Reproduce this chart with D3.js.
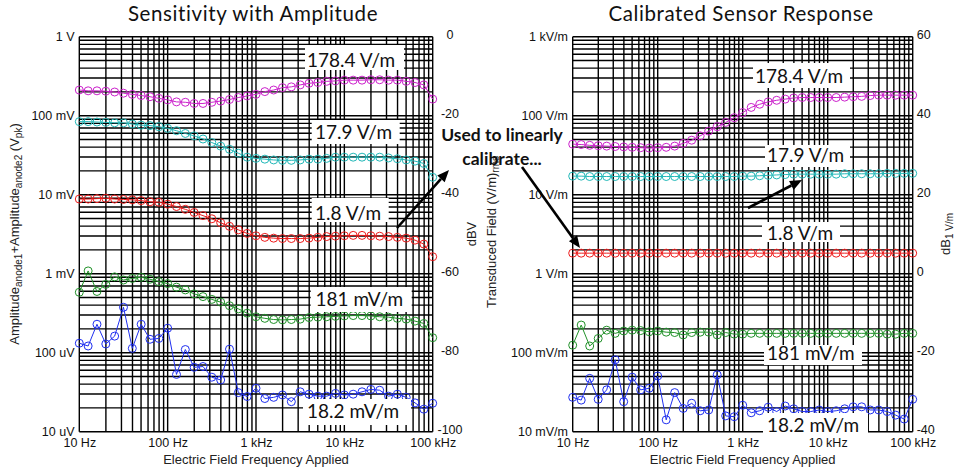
<!DOCTYPE html>
<html><head><meta charset="utf-8">
<script src="https://cdn.jsdelivr.net/npm/d3@7"></script>
<style>body{margin:0;background:#fff}</style></head>
<body><svg id="c" width="964" height="471"></svg>
<script>
// ---------- DATA ----------
const freqs=[10,12.59,15.85,19.95,25.12,31.62,39.81,50.12,63.1,79.43,100,125.9,158.5,199.5,251.2,316.2,398.1,501.2,631,794.3,1000,1259,1585,1995,2512,3162,3981,5012,6310,7943,10000,12589,15849,19953,25119,31623,39811,50119,63096,79433,100000];
// Left chart: amplitude in dBV
const magentaL=[-13.5,-13.7,-13.7,-13.8,-14.0,-14.3,-14.6,-14.9,-15.2,-15.6,-16.0,-16.5,-16.6,-16.9,-16.9,-16.6,-16.3,-15.9,-15.4,-15.0,-14.6,-13.9,-13.5,-12.9,-12.7,-12.2,-11.8,-11.6,-11.3,-11.2,-11.0,-11.0,-11.0,-10.9,-10.9,-11.0,-11.0,-11.3,-11.6,-12.2,-15.8];
const cyanL=[-21.5,-21.5,-21.6,-21.7,-21.8,-21.8,-22.1,-22.4,-22.5,-22.8,-23.2,-23.8,-24.5,-25.1,-25.9,-26.8,-27.7,-28.5,-29.5,-30.5,-30.8,-31.0,-31.2,-31.3,-31.3,-31.2,-31.0,-31.0,-30.8,-30.5,-30.5,-30.5,-30.5,-30.5,-30.5,-30.7,-30.9,-31.2,-31.5,-32.1,-35.6];
const redL=[-41.1,-41.1,-41.0,-40.9,-41.1,-41.2,-41.3,-41.5,-41.8,-41.9,-42.4,-43.0,-43.7,-44.5,-45.3,-46.1,-47.1,-48.0,-48.9,-49.8,-50.4,-50.8,-51.0,-51.1,-51.1,-51.1,-51.0,-50.8,-50.6,-50.5,-50.4,-50.3,-50.3,-50.4,-50.5,-50.6,-50.8,-51.0,-51.5,-52.5,-55.7];
const greenL=[-64.7,-59.3,-64.5,-62.7,-60.8,-61.6,-61.2,-60.9,-61.4,-62.0,-62.5,-63.4,-64.1,-65.1,-65.8,-66.5,-67.2,-68.1,-68.9,-70.0,-70.9,-71.3,-71.6,-71.7,-71.6,-71.5,-71.1,-71.0,-70.9,-70.8,-70.7,-70.6,-70.6,-70.7,-70.9,-71.0,-71.3,-71.5,-72.0,-72.6,-76.2];
const blueL=[-77.6,-78.3,-72.8,-77.8,-75.8,-68.5,-78.9,-72.8,-76.6,-76.4,-73.8,-85.5,-79.2,-83.7,-83.5,-86.2,-86.9,-79.1,-90.1,-91.1,-89.0,-91.6,-91.3,-90.7,-92.4,-89.9,-90.5,-91.0,-91.0,-90.3,-90.7,-90.5,-89.9,-89.3,-89.5,-91.0,-90.5,-91.3,-92.7,-94.3,-92.8];
// Right chart: transduced field in dB re 1 V/m
const magentaR=[32.8,32.7,32.5,32.4,32.3,32.2,32.1,32.0,31.9,31.8,31.9,32.0,32.3,33.0,33.8,34.9,36.1,37.2,38.3,39.5,40.8,42.1,42.9,43.5,43.9,44.2,44.5,44.6,44.6,44.6,44.6,44.6,44.7,44.8,44.9,45.1,45.2,45.2,45.2,45.2,45.2];
const cyanR=[24.7,24.7,24.6,24.6,24.6,24.6,24.6,24.6,24.6,24.6,24.6,24.6,24.6,24.6,24.6,24.6,24.6,24.6,24.6,24.6,24.7,24.7,24.8,24.9,25.0,25.1,25.2,25.2,25.2,25.2,25.2,25.2,25.3,25.3,25.3,25.3,25.3,25.4,25.4,25.4,25.4];
const redR=[5.2,5.2,5.2,5.2,5.2,5.2,5.2,5.2,5.2,5.2,5.2,5.2,5.2,5.2,5.2,5.2,5.2,5.2,5.2,5.2,5.2,5.2,5.2,5.2,5.2,5.2,5.2,5.2,5.2,5.2,5.2,5.2,5.2,5.2,5.2,5.2,5.2,5.2,5.2,5.2,5.2];
const greenR=[-18.1,-13.0,-18.3,-16.4,-14.3,-15.1,-14.5,-14.3,-14.4,-14.7,-14.5,-14.8,-14.9,-15.5,-14.9,-14.8,-14.8,-15.5,-14.9,-15.3,-15.3,-15.1,-15.1,-15.1,-15.1,-15.1,-15.1,-15.1,-15.1,-15.1,-15.1,-15.1,-15.1,-15.1,-15.1,-15.1,-15.1,-15.3,-15.3,-15.1,-15.1];
const blueR=[-31.3,-32.0,-26.5,-31.8,-29.4,-21.8,-32.4,-26.2,-29.4,-29.0,-25.9,-37.0,-30.1,-34.1,-32.8,-34.7,-34.5,-25.6,-36.0,-36.2,-33.3,-35.2,-34.7,-33.8,-34.9,-33.5,-34.2,-34.9,-34.9,-34.5,-34.9,-34.7,-34.2,-33.7,-33.7,-34.5,-34.5,-34.9,-35.8,-36.8,-31.8];

const seriesNames=["178.4 V/m","17.9 V/m","1.8 V/m","181 mV/m","18.2 mV/m"];
const seriesColors=["#cc22cc","#22b8b8","#ee1c1c","#22922a","#1f2ff0"];
const xTicks=[10,100,1000,10000,100000];
const xTickLabels=["10 Hz","100 Hz","1 kHz","10 kHz","100 kHz"];
const leftYTicks=[1,0.1,0.01,0.001,1e-4,1e-5];
const leftYLabels=["1 V","100 mV","10 mV","1 mV","100 uV","10 uV"];
const leftDbTicks=[0,-20,-40,-60,-80,-100];
const rightYTicks=[1000,100,10,1,0.1,0.01];
const rightYLabels=["1 kV/m","100 V/m","10 V/m","1 V/m","100 mV/m","10 mV/m"];
const rightDbTicks=[60,40,20,0,-20,-40];

// ---------- LAYOUT ----------
const svg=d3.select("#c");
const yTop=36.7,yBot=431.7;
const tickFont="'Liberation Sans', Arial, sans-serif";
const calFont="Lato, 'Open Sans', sans-serif";

function drawChart(cfg){
  const g=svg.append("g");
  const x=d3.scaleLog().domain([10,1e5]).range([cfg.x0,cfg.x1]);
  const y=d3.scaleLog().domain(cfg.yDomain).range([yBot,yTop]);
  const yDb=d3.scaleLinear().domain(cfg.dbDomain).range([yBot,yTop]);

  // grid
  const xg=[];
  for(let d=10;d<1e5;d*=10) for(let k=1;k<10;k++) xg.push(d*k);
  xg.push(1e5);
  const yg=[];
  for(let d=cfg.yDomain[0];d<cfg.yDomain[1]*0.999;d*=10) for(let k=1;k<10;k++) yg.push(d*k);
  yg.push(cfg.yDomain[1]);
  const grid=g.append("g").attr("stroke","#000").attr("stroke-width",1.4);
  grid.selectAll(".xg").data(xg).join("line")
    .attr("x1",d=>x(d)).attr("x2",d=>x(d)).attr("y1",yTop).attr("y2",yBot);
  grid.selectAll(".yg").data(yg).join("line")
    .attr("y1",d=>y(d)).attr("y2",d=>y(d)).attr("x1",cfg.x0).attr("x2",cfg.x1);

  // series
  cfg.series.forEach((s,si)=>{
    const pts=freqs.map((f,i)=>[f,s[i]]);
    g.append("path").datum(pts)
      .attr("fill","none").attr("stroke",seriesColors[si]).attr("stroke-width",1)
      .attr("d",d3.line().x(d=>x(d[0])).y(d=>yDb(d[1])));
    g.append("g").selectAll("circle").data(pts).join("circle")
      .attr("cx",d=>x(d[0])).attr("cy",d=>yDb(d[1])).attr("r",4)
      .attr("fill","none").attr("stroke",seriesColors[si]).attr("stroke-width",1);
  });

  // label boxes
  cfg.boxes.forEach((b,i)=>{
    g.append("rect").attr("x",b[0]).attr("y",b[1]).attr("width",b[2]).attr("height",b[3]).attr("fill","#fff");
    g.append("text").attr("x",b[4]).attr("y",b[5]).text(seriesNames[i])
      .attr("font-family",calFont).attr("font-size",19).attr("fill","#111");
  });

  // axes
  const ax=g.append("g").attr("transform",`translate(${cfg.x0},0)`)
    .call(d3.axisLeft(y).tickValues(cfg.yTicks).tickFormat((d,i)=>cfg.yLabels[i]).tickSize(0).tickPadding(cfg.x0-cfg.yLabelRight));
  const ax2=g.append("g").attr("transform",`translate(${cfg.x1},-2)`)
    .call(d3.axisRight(yDb).tickValues(cfg.dbTicks).tickFormat(d=>d===0?"0":d3.format("d")(d).replace("−","-")).tickSize(0).tickPadding(cfg.dbPad));
  if(cfg.dbAnchor) ax2.selectAll("text").attr("text-anchor",cfg.dbAnchor);
  const ax3=g.append("g").attr("transform",`translate(0,${yBot})`)
    .call(d3.axisBottom(x).tickValues(xTicks).tickFormat((d,i)=>xTickLabels[i]).tickSize(0).tickPadding(6));
  [ax,ax2,ax3].forEach(a=>{
    a.select(".domain").remove();
    a.selectAll("text").attr("font-family",tickFont).attr("font-size",12.5).attr("fill","#111");
  });

  // x title
  g.append("text").attr("x",(cfg.x0+cfg.x1)/2).attr("y",463.5).attr("text-anchor","middle")
    .attr("font-family",tickFont).attr("font-size",13).attr("fill","#222").text("Electric Field Frequency Applied");
  // title
  g.append("text").attr("x",cfg.titleX).attr("y",21).attr("text-anchor","middle")
    .attr("font-family",calFont).attr("font-size",20.5).attr("letter-spacing",0.6).attr("fill","#111").text(cfg.title);
  return {x,y,yDb};
}

function rotText(x,y,parts){
  const t=svg.append("text").attr("transform",`rotate(-90,${x},${y})`).attr("x",x).attr("y",y)
    .attr("text-anchor","middle").attr("font-family",tickFont).attr("fill","#222");
  let shift=0;
  parts.forEach(p=>{
    const sub=p[1];
    const want=sub?3:0;
    t.append("tspan").attr("dy",want-shift).attr("font-size",sub?10:13).text(p[0]);
    shift=want;
  });
}

drawChart({x0:79.3,x1:432.7,yDomain:[1e-5,1],dbDomain:[-100,0],yTicks:leftYTicks,yLabels:leftYLabels,yLabelRight:74.5,
  dbTicks:leftDbTicks,dbPad:17.3,dbAnchor:"middle",
  series:[magentaL,cyanL,redL,greenL,blueL],title:"Sensitivity with Amplitude",titleX:253,
  boxes:[[305,45,99,25,307,67],[311.7,120,88,24,315,138.5],[311.7,198,77,24,315,219.5],[310.7,287,101,25,315.5,306],[303,399,108,26,307,418]]});
drawChart({x0:572.7,x1:912.7,yDomain:[0.01,1000],dbDomain:[-40,60],yTicks:rightYTicks,yLabels:rightYLabels,yLabelRight:568,
  dbTicks:rightDbTicks,dbPad:4,dbAnchor:null,
  series:[magentaR,cyanR,redR,greenR,blueR],title:"Calibrated Sensor Response",titleX:741,
  boxes:[[753,63,97,25,755,83],[765,145,85,22,767,162],[762,222,78,20,767,240],[764,345,98,20,767,360],[763,413,105,23,767,432]]});

// axis titles
rotText(19,234,[["Amplitude",0],["anode1",1],["+Amplitude",0],["anode2",1],[" (V",0],["pk",1],[")",0]]);
rotText(476,234,[["dBV",0]]);
rotText(495.5,232,[["Transduced Field (V/m)",0],["rms",1]]);
rotText(950,234,[["dB",0],["1 V/m",1]]);

// annotation
svg.append("text").attr("x",502).attr("y",140.5).attr("text-anchor","middle").attr("font-family",calFont)
  .attr("font-weight","bold").attr("font-size",17.5).attr("fill","#111").text("Used to linearly");
svg.append("text").attr("x",502).attr("y",165).attr("text-anchor","middle").attr("font-family",calFont)
  .attr("font-weight","bold").attr("font-size",17.5).attr("fill","#111").text("calibrate...");

function arrow(x1,y1,x2,y2){
  const a=Math.atan2(y2-y1,x2-x1),L=12,w=5;
  const bx=x2-L*Math.cos(a),by=y2-L*Math.sin(a);
  svg.append("line").attr("x1",x1).attr("y1",y1).attr("x2",bx).attr("y2",by).attr("stroke","#000").attr("stroke-width",2.6);
  svg.append("polygon").attr("fill","#000").attr("points",[
    [x2,y2],[bx+w*Math.sin(a),by-w*Math.cos(a)],[bx-w*Math.sin(a),by+w*Math.cos(a)]].map(p=>p.join(",")).join(" "));
}
arrow(397,228,449,170);
arrow(522,167,580,248);
arrow(748,208,802,180);
</script></body></html>
